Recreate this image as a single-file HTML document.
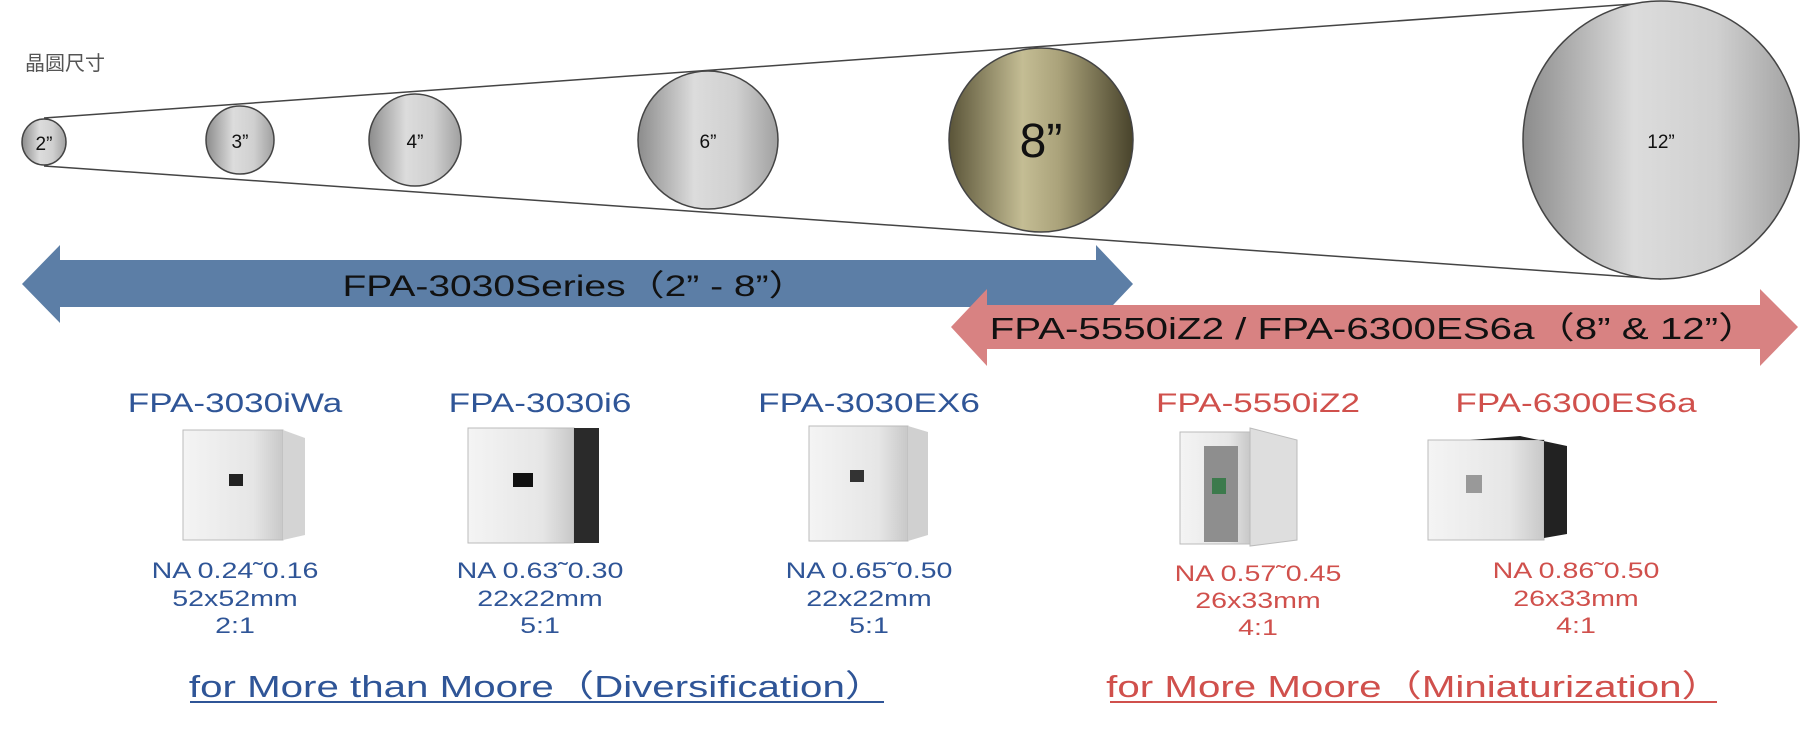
<!DOCTYPE html>
<html><head><meta charset="utf-8"><style>
html,body{margin:0;padding:0;background:#fff}
svg{display:block}
text{font-family:"Liberation Sans","Noto Sans CJK SC",sans-serif}
</style></head><body>
<svg width="1800" height="738" viewBox="0 0 1800 738" xmlns="http://www.w3.org/2000/svg">
<defs>
<linearGradient id="gl" x1="0" y1="0" x2="1" y2="0"><stop offset="0" stop-color="#8c8c8c"/><stop offset="0.4" stop-color="#dcdcdc"/><stop offset="0.7" stop-color="#d0d0d0"/><stop offset="1" stop-color="#a0a0a0"/></linearGradient>
<linearGradient id="go" x1="0" y1="0" x2="1" y2="0"><stop offset="0" stop-color="#5a5438"/><stop offset="0.4" stop-color="#c4bd94"/><stop offset="0.6" stop-color="#aaa27a"/><stop offset="1" stop-color="#48432b"/></linearGradient>
<linearGradient id="m" x1="0" y1="0" x2="1" y2="0"><stop offset="0" stop-color="#f4f4f4"/><stop offset="0.7" stop-color="#e6e6e6"/><stop offset="1" stop-color="#c8c8c8"/></linearGradient>
</defs>
<text x="25" y="70" font-size="20" fill="#555" font-family="Noto Serif CJK SC,serif">晶圆尺寸</text>
<line x1="44" y1="118" x2="1661" y2="2" stroke="#444" stroke-width="1.5"/>
<line x1="44" y1="166" x2="1661" y2="279" stroke="#444" stroke-width="1.5"/>
<ellipse cx="44" cy="142" rx="22" ry="23" fill="url(#gl)" stroke="#444" stroke-width="1.5"/>
<ellipse cx="240" cy="140" rx="34" ry="34" fill="url(#gl)" stroke="#444" stroke-width="1.5"/>
<ellipse cx="415" cy="140" rx="46" ry="46" fill="url(#gl)" stroke="#444" stroke-width="1.5"/>
<ellipse cx="708" cy="140" rx="70" ry="69" fill="url(#gl)" stroke="#444" stroke-width="1.5"/>
<ellipse cx="1041" cy="140" rx="92" ry="92" fill="url(#go)" stroke="#444" stroke-width="1.5"/>
<ellipse cx="1661" cy="140" rx="138" ry="139" fill="url(#gl)" stroke="#444" stroke-width="1.5"/>
<g fill="#111" text-anchor="middle">
<text x="44" y="150" font-size="19">2”</text>
<text x="240" y="148" font-size="19">3”</text>
<text x="415" y="148" font-size="19">4”</text>
<text x="708" y="148" font-size="19">6”</text>
<text x="1041" y="157" font-size="48">8”</text>
<text x="1661" y="148" font-size="19">12”</text>
</g>
<polygon points="22,284 60,245 60,260 1096,260 1096,245 1133,284 1096,323 1096,307 60,307 60,323" fill="#5c7ea6"/>
<text transform="translate(575,296) scale(1.3,1)" font-size="30" fill="#111" text-anchor="middle">FPA-3030Series（2” - 8”）</text>
<polygon points="951,327 987,289 987,305 1760,305 1760,289 1798,327 1760,366 1760,349 987,349 987,366" fill="#d88282"/>
<text transform="translate(1374,339) scale(1.3,1)" font-size="31" fill="#111" text-anchor="middle">FPA-5550iZ2 / FPA-6300ES6a（8” &amp; 12”）</text>
<g font-size="27" text-anchor="middle">
<text transform="translate(235,412) scale(1.3,1)" fill="#2f5597">FPA-3030iWa</text>
<text transform="translate(540,412) scale(1.3,1)" fill="#2f5597">FPA-3030i6</text>
<text transform="translate(869,412) scale(1.3,1)" fill="#2f5597">FPA-3030EX6</text>
<text transform="translate(1258,412) scale(1.3,1)" fill="#d0504c">FPA-5550iZ2</text>
<text transform="translate(1576,412) scale(1.3,1)" fill="#d0504c">FPA-6300ES6a</text>
</g>
<!-- machines -->
<rect x="183" y="430" width="100" height="110" fill="url(#m)" stroke="#bbb"/>
<polygon points="283,430 305,438 305,535 283,540" fill="#d4d4d4"/>
<rect x="229" y="474" width="14" height="12" fill="#222"/>
<rect x="468" y="428" width="106" height="115" fill="url(#m)" stroke="#bbb"/>
<rect x="574" y="428" width="25" height="115" fill="#2a2a2a"/>
<rect x="513" y="473" width="20" height="14" fill="#111"/>
<rect x="809" y="426" width="99" height="115" fill="url(#m)" stroke="#bbb"/>
<polygon points="908,426 928,432 928,535 908,541" fill="#d0d0d0"/>
<rect x="850" y="470" width="14" height="12" fill="#333"/>
<rect x="1180" y="432" width="70" height="112" fill="url(#m)" stroke="#bbb"/>
<rect x="1204" y="446" width="34" height="96" fill="#8e8e8e"/>
<rect x="1212" y="478" width="14" height="16" fill="#3c7a4c"/>
<polygon points="1250,428 1297,440 1297,540 1250,546" fill="#dedede" stroke="#bbb"/>
<rect x="1428" y="440" width="116" height="100" fill="url(#m)" stroke="#bbb"/>
<polygon points="1470,440 1520,436 1567,446 1567,534 1544,538 1544,440" fill="#222"/>
<rect x="1466" y="475" width="16" height="18" fill="#999"/>
<g font-size="22" text-anchor="middle" fill="#2f5597">
<text transform="translate(235,578) scale(1.3,1)">NA 0.24˜0.16</text><text transform="translate(235,606) scale(1.3,1)">52x52mm</text><text transform="translate(235,633) scale(1.3,1)">2:1</text>
<text transform="translate(540,578) scale(1.3,1)">NA 0.63˜0.30</text><text transform="translate(540,606) scale(1.3,1)">22x22mm</text><text transform="translate(540,633) scale(1.3,1)">5:1</text>
<text transform="translate(869,578) scale(1.3,1)">NA 0.65˜0.50</text><text transform="translate(869,606) scale(1.3,1)">22x22mm</text><text transform="translate(869,633) scale(1.3,1)">5:1</text>
</g>
<g font-size="22" text-anchor="middle" fill="#d0504c">
<text transform="translate(1258,581) scale(1.3,1)">NA 0.57˜0.45</text><text transform="translate(1258,608) scale(1.3,1)">26x33mm</text><text transform="translate(1258,635) scale(1.3,1)">4:1</text>
<text transform="translate(1576,578) scale(1.3,1)">NA 0.86˜0.50</text><text transform="translate(1576,606) scale(1.3,1)">26x33mm</text><text transform="translate(1576,633) scale(1.3,1)">4:1</text>
</g>
<text transform="translate(537,697) scale(1.3,1)" font-size="31" fill="#2f5597" text-anchor="middle">for More than Moore（Diversification）</text>
<line x1="190" y1="702" x2="884" y2="702" stroke="#2f5597" stroke-width="2"/>
<text transform="translate(1414,697) scale(1.3,1)" font-size="31" fill="#d0504c" text-anchor="middle">for More Moore（Miniaturization）</text>
<line x1="1110" y1="702" x2="1717" y2="702" stroke="#d0504c" stroke-width="2"/>
</svg>
</body></html>
